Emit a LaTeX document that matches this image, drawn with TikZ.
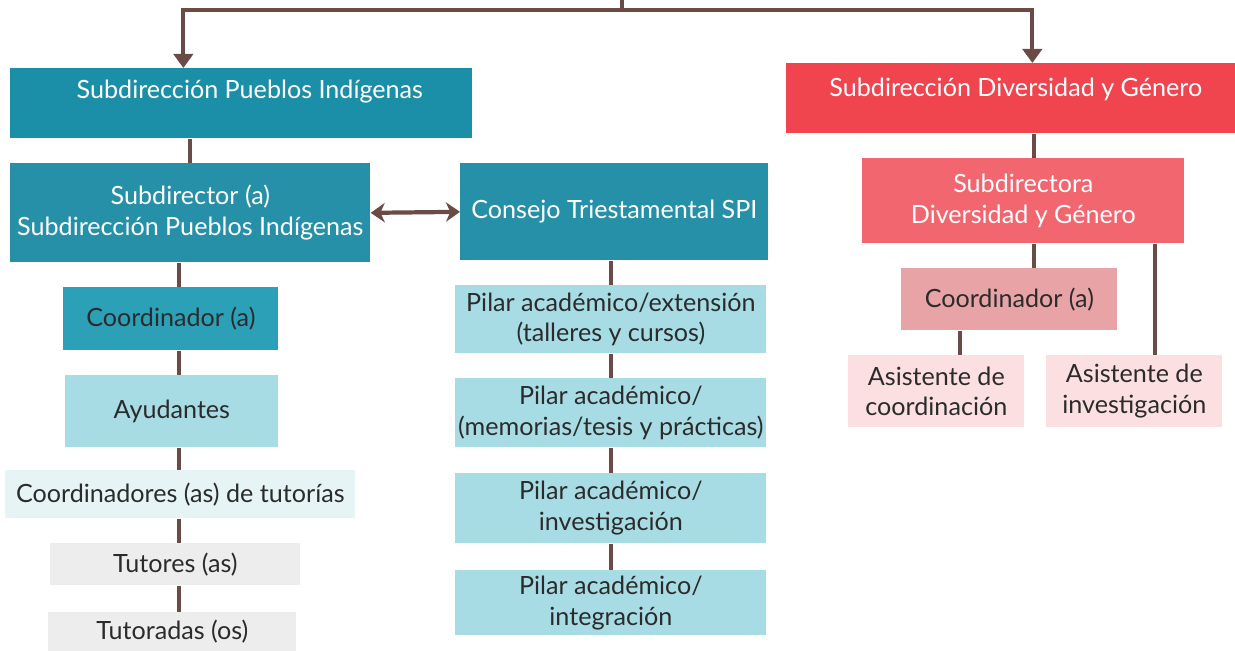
\documentclass[tikz,border=0pt]{standalone}
\usepackage{fontspec}
\setmainfont{Lato}
\usetikzlibrary{arrows.meta}
\definecolor{tealA}{HTML}{1B8FA8}
\definecolor{tealB}{HTML}{2590A7}
\definecolor{tealC}{HTML}{2BA0B6}
\definecolor{cyanA}{HTML}{A7DCE5}
\definecolor{cyanB}{HTML}{E6F4F6}
\definecolor{greyA}{HTML}{EDEDED}
\definecolor{redA}{HTML}{F0444F}
\definecolor{redB}{HTML}{F2676F}
\definecolor{pinkA}{HTML}{E8A3A6}
\definecolor{pinkB}{HTML}{FBDFE1}
\definecolor{brownA}{HTML}{6A4B45}
\definecolor{ink}{HTML}{2B2B2B}
\tikzset{
  box/.style={anchor=north west, inner sep=0pt, align=center, text=ink,
    font=\fontsize{14.3}{17.5}\selectfont},
  dark/.style={box, text=white},
  link/.style={draw=brownA, line width=2.4pt},
  tip/.style={-{Triangle[length=8pt,width=11pt]}},
  both/.style={{Stealth[length=8pt,width=11pt,inset=2.5pt]}-{Stealth[length=8pt,width=11pt,inset=2.5pt]}}
}
\begin{document}
\begin{tikzpicture}
\useasboundingbox (0,0) rectangle (24.7,-13.02);
\node[dark, fill=tealA, minimum width=9.24cm, text height=0.6cm, text depth=0.8cm] (spi) at (0.2,-1.36) {\hspace*{0.34cm}Subdirección Pueblos Indígenas};
\node[dark, fill=tealB, minimum width=7.2cm, minimum height=1.98cm] (sub) at (0.2,-3.26) {Subdirector (a)\\Subdirección Pueblos Indígenas};
\node[dark, fill=tealB, minimum width=6.16cm, minimum height=1.94cm] (cons) at (9.2,-3.26) {Consejo Triestamental SPI};
\node[box, fill=tealC, minimum width=4.3cm, minimum height=1.26cm] (coorA) at (1.26,-5.74) {Coordinador (a)};
\node[box, fill=cyanA, minimum width=4.26cm, minimum height=1.44cm] (ayud) at (1.3,-7.5) {Ayudantes};
\node[box, fill=cyanB, minimum width=7.0cm, minimum height=0.96cm] (coordT) at (0.1,-9.4) {Coordinadores (as) de tutorías};
\node[box, fill=greyA, minimum width=5.0cm, minimum height=0.84cm] (tutores) at (1.0,-10.86) {Tutores (as)};
\node[box, fill=greyA, minimum width=4.96cm, minimum height=0.78cm] (tutoradas) at (0.96,-12.24) {Tutoradas (os)};
\node[box, fill=cyanA, minimum width=6.22cm, minimum height=1.36cm] (p1) at (9.1,-5.7) {Pilar académico/extensión\\(talleres y cursos)};
\node[box, fill=cyanA, minimum width=6.22cm, minimum height=1.38cm] (p2) at (9.1,-7.56) {Pilar académico/\\(memorias/tesis y prácticas)};
\node[box, fill=cyanA, minimum width=6.22cm, minimum height=1.40cm] (p3) at (9.1,-9.46) {Pilar académico/\\investigación};
\node[box, fill=cyanA, minimum width=6.22cm, minimum height=1.30cm] (p4) at (9.1,-11.4) {Pilar académico/\\integración};
\node[dark, fill=redA, minimum width=8.98cm, text height=0.66cm, text depth=0.74cm] (sdg) at (15.72,-1.26) {\hspace*{0.2cm}Subdirección Diversidad y Género};
\node[dark, fill=redB, minimum width=6.44cm, minimum height=1.70cm] (sdir) at (17.24,-3.16) {Subdirectora\\Diversidad y Género};
\node[box, fill=pinkA, minimum width=4.32cm, minimum height=1.24cm] (coorB) at (18.02,-5.36) {Coordinador (a)};
\node[box, fill=pinkB, minimum width=3.52cm, minimum height=1.44cm] (asis1) at (16.96,-7.1) {Asistente de\\coordinación};
\node[box, fill=pinkB, minimum width=3.52cm, minimum height=1.44cm] (asis2) at (20.92,-7.1) {Asistente de\\investigación};
\coordinate (root) at (12.44,0);
\coordinate (bar) at (12.44,-0.2);
\coordinate (colL) at (3.58,0);
\coordinate (colR) at (20.68,0);
\coordinate (colA) at (19.2,0);
\coordinate (colB) at (23.1,0);
\draw[link] (root) -- (bar);
\draw[link, tip] (bar) -| ([xshift=-1.16cm]spi.north);
\draw[link, tip] (bar) -| ([xshift=0.43cm]sdg.north);
\draw[link] (spi.south -| sub) -- (sub.north);
\draw[link, both] (sub.east) -- (cons.west);
\draw[link] (sub.south -| colL) -- (coorA.north -| colL);
\draw[link] (coorA.south -| colL) -- (ayud.north -| colL);
\draw[link] (ayud.south -| colL) -- (coordT.north -| colL);
\draw[link] (coordT.south -| colL) -- (tutores.north -| colL);
\draw[link] (tutores.south -| colL) -- (tutoradas.north -| colL);
\draw[link] (cons.south -| p1) -- (p1.north);
\draw[link] (p1.south) -- (p2.north);
\draw[link] (p2.south) -- (p3.north);
\draw[link] (p3.south) -- (p4.north);
\draw[link] (sdg.south -| colR) -- (sdir.north -| colR);
\draw[link] (sdir.south -| colR) -- (coorB.north -| colR);
\draw[link] (coorB.south -| colA) -- (asis1.north -| colA);
\draw[link] (sdir.south -| colB) -- (asis2.north -| colB);
\end{tikzpicture}
\end{document}
